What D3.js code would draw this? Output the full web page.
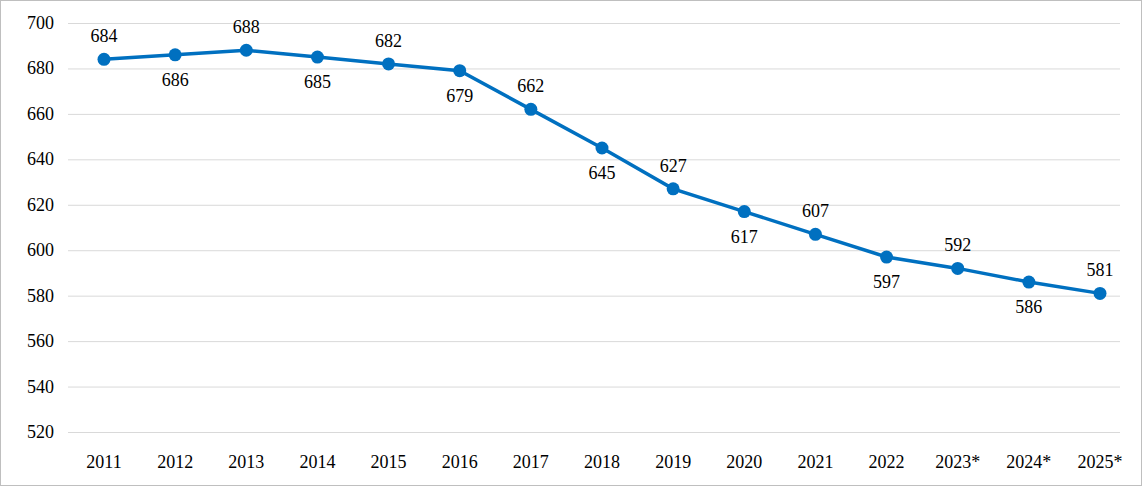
<!DOCTYPE html>
<html><head><meta charset="utf-8">
<script src="https://cdn.jsdelivr.net/npm/d3@7"></script>
<style>body{margin:0;background:#fff}svg{font-family:"Liberation Serif","Times New Roman",serif}</style>
</head><body><div id="holder"></div>
<script>
var years = ['2011','2012','2013','2014','2015','2016','2017','2018','2019','2020','2021','2022','2023*','2024*','2025*'];
var values = [684,686,688,685,682,679,662,645,627,617,607,597,592,586,581];
var yTicks = [520,540,560,580,600,620,640,660,680,700];

var svg = d3.select('#holder').append('svg').attr('width', 1142).attr('height', 486);
svg.append('rect').attr('x', 0.5).attr('y', 0.5).attr('width', 1141).attr('height', 485)
    .attr('fill', '#fff').attr('stroke', '#bfbfbf');

var x = d3.scalePoint().domain(years).range([104, 1100]);
var y = d3.scaleLinear().domain([520, 700]).range([432, 23]);

// grid
svg.append('g').selectAll('line').data(yTicks).enter().append('line')
    .attr('x1', 68).attr('x2', 1120)
    .attr('y1', function(d) { return y(d) + 0.5; }).attr('y2', function(d) { return y(d) + 0.5; })
    .attr('stroke', '#d9d9d9').attr('stroke-width', 1);

svg.append('g').selectAll('text').data(yTicks).enter().append('text')
    .attr('x', 54).attr('y', function(d) { return y(d) + 6; })
    .attr('text-anchor', 'end').attr('font-size', 18).text(function(d) { return d; });

svg.append('g').selectAll('text').data(years).enter().append('text')
    .attr('x', function(d) { return x(d); }).attr('y', 468)
    .attr('text-anchor', 'middle').attr('font-size', 18).text(function(d) { return d; });

var line = d3.line().x(function(d, i) { return x(years[i]); }).y(function(d) { return y(d); });
svg.append('path').datum(values).attr('d', line)
    .attr('fill', 'none').attr('stroke', '#0070c0').attr('stroke-width', 3.5);

svg.append('g').selectAll('circle').data(values).enter().append('circle')
    .attr('cx', function(d, i) { return x(years[i]); }).attr('cy', function(d) { return y(d); })
    .attr('r', 6.5).attr('fill', '#0070c0');

svg.append('g').selectAll('text').data(values).enter().append('text')
    .attr('x', function(d, i) { return x(years[i]); })
    .attr('y', function(d, i) { return i % 2 === 0 ? y(d) - 17 : y(d) + 31; })
    .attr('text-anchor', 'middle').attr('font-size', 18).text(function(d) { return d; });
</script></body></html>
